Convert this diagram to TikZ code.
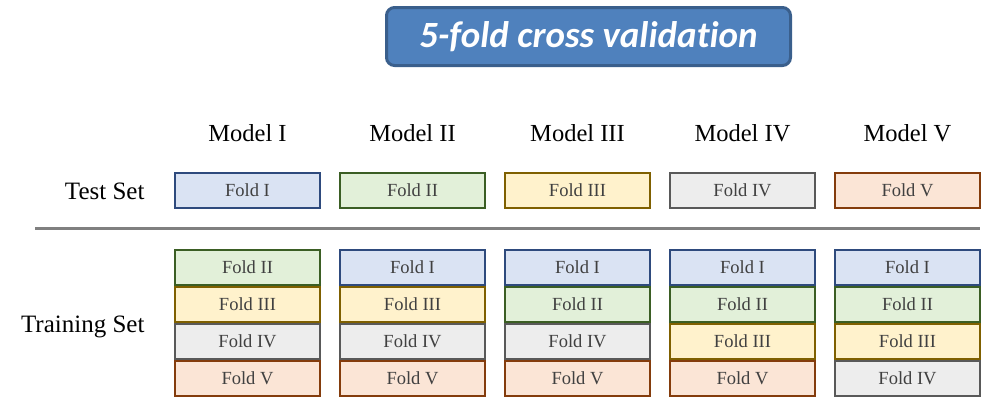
\documentclass[tikz,border=0pt]{standalone}
\usepackage{fontspec}
\setmainfont{Liberation Serif}
\newfontfamily\titlefont[Ligatures=NoCommon]{Carlito}
\definecolor{titlefill}{HTML}{4F81BD}
\definecolor{titleedge}{HTML}{3A5F8C}
\definecolor{fIfill}{HTML}{DAE3F3}\definecolor{fIedge}{HTML}{2E4A7D}
\definecolor{fIIfill}{HTML}{E2F0D9}\definecolor{fIIedge}{HTML}{3B5E24}
\definecolor{fIIIfill}{HTML}{FFF2CC}\definecolor{fIIIedge}{HTML}{7F6000}
\definecolor{fIVfill}{HTML}{EDEDED}\definecolor{fIVedge}{HTML}{595959}
\definecolor{fVfill}{HTML}{FBE5D6}\definecolor{fVedge}{HTML}{843C0C}
\definecolor{foldtext}{HTML}{404040}
\definecolor{rulegray}{HTML}{808080}
\begin{document}
\begin{tikzpicture}[x=1pt,y=-1pt,
  foldbox/.style={draw=f#1edge,fill=f#1fill,line width=2pt,
    minimum width=145pt,minimum height=35pt,inner sep=0pt,
    text=foldtext,font=\fontsize{18.5}{21}\selectfont},
  foldtxt/.style={text=foldtext,font=\fontsize{18.5}{21}\selectfont,inner sep=0pt},
  modellabel/.style={font=\fontsize{24.5}{28}\selectfont,text=black},
  rowlabel/.style={font=\fontsize{25}{28}\selectfont,text=black,anchor=east}]
\useasboundingbox (0,0) rectangle (989,397);

% title banner
\node[draw=titleedge,fill=titlefill,line width=3pt,rounded corners=8pt,
  minimum width=404pt,minimum height=58pt,inner sep=0pt,
  text=white,font=\titlefont\bfseries\itshape\fontsize{37}{42}\selectfont]
  (title) at (588.5,36.5) {5-fold cross validation};

% model headings
\foreach \i/\name/\x in {1/Model I/247.5,2/Model II/412.5,3/Model III/577.5,4/Model IV/742.5,5/Model V/907.5}
  \node[modellabel] (m\i) at (\x,133) {\name};

% row labels
\node[rowlabel] (test) at (148,191.5) {Test Set};
\node[rowlabel] (train) at (148,326.5) {Training Set};

% test folds
\foreach \i/\f/\x in {1/I/247.5,2/II/412.5,3/III/577.5,4/IV/742.5,5/V/907.5}
  \node[foldbox=\f] (t\i) at (\x,190.5) {\raisebox{-1pt}{Fold \f}};

% separator
\coordinate (sepL) at (35,228);
\coordinate (sepR) at (980,228);
\draw[rulegray,line width=3pt] (sepL) -- (sepR);

% training folds, stacked
\foreach \i/\x/\a/\b/\c/\d in {
  1/247.5/II/III/IV/V,
  2/412.5/I/III/IV/V,
  3/577.5/I/II/IV/V,
  4/742.5/I/II/III/V,
  5/907.5/I/II/III/IV}{
  \node[foldbox=\a] (r\i a) at (\x,267.5) {\raisebox{-1pt}{Fold \a}};
  \node[foldbox=\b] (r\i b) at (\x,304.5) {\raisebox{-1pt}{Fold \b}};
  \node[foldbox=\c] (r\i c) at (\x,341.5) {\raisebox{-1pt}{Fold \c}};
  \node[foldbox=\d] (r\i d) at (\x,378.5) {\raisebox{-1pt}{Fold \d}};
}
\end{tikzpicture}
\end{document}
